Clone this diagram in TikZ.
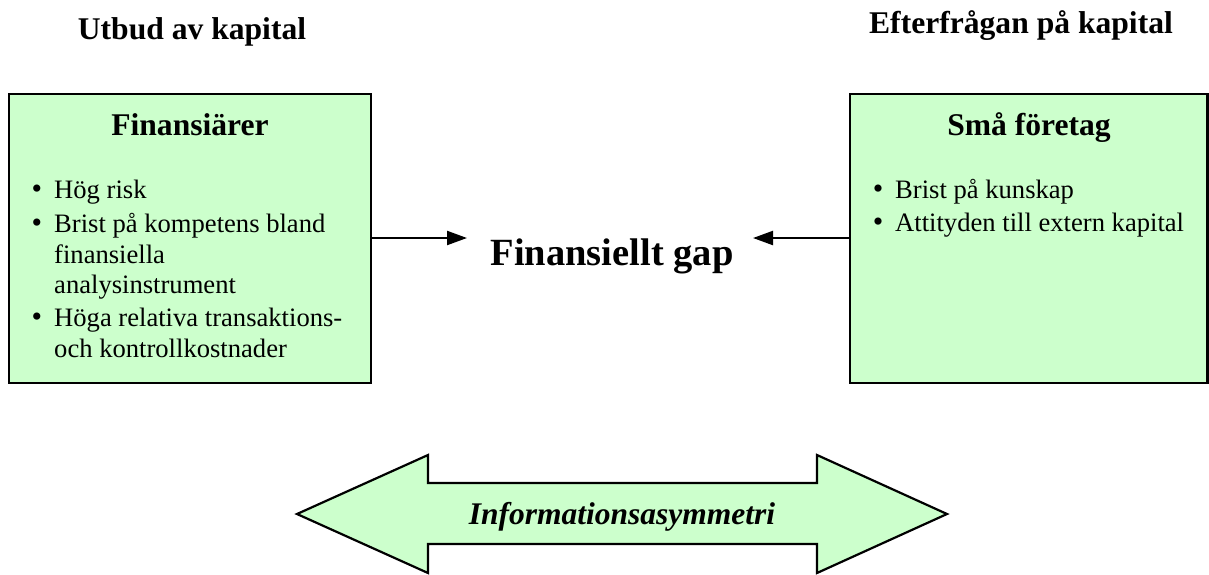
\documentclass[tikz,border=0pt]{standalone}
\usepackage{fontspec}
\setmainfont{Liberation Serif}
\usetikzlibrary{arrows.meta}
\definecolor{boxgreen}{HTML}{CCFFCC}
\tikzset{
  greenbox/.style={draw=black, fill=boxgreen, line width=2.6pt},
  headtext/.style={font=\fontsize{31.6}{36}\selectfont\bfseries, inner sep=0pt, anchor=base},
  bodyline/.style={font=\fontsize{26.6}{31}\selectfont, inner sep=0pt, anchor=base west},
  bulletmark/.style={font=\fontsize{30}{32}\selectfont, inner sep=0pt, anchor=base},
  flowarrow/.style={line width=2.2pt, -{Triangle[length=20pt,width=14pt]}},
}
\begin{document}
\begin{tikzpicture}[x=1pt,y=-1pt]
\useasboundingbox (0,0) rectangle (1209,574);
% top labels
\node[headtext] (supply) at (192,39) {Utbud av kapital};
\node[headtext] (demand) at (1021,33) {Efterfrågan på kapital};
% boxes
\draw[greenbox] (9,94) rectangle (371,383);
\draw[greenbox] (850,94) rectangle (1207.7,383);
\coordinate (lbox) at (371,238);
\coordinate (rbox) at (850,238);
% left box content
\node[headtext] (fin) at (190,135) {Finansiärer};
\node[bulletmark] (b1) at (37,198) {\textbullet};
\node[bodyline] (l1) at (54,198) {Hög risk};
\node[bulletmark] (b2) at (37,232) {\textbullet};
\node[bodyline] (l2) at (54,232) {Brist på kompetens bland};
\node[bodyline] (l3) at (54,263) {finansiella};
\node[bodyline] (l4) at (54,293) {analysinstrument};
\node[bulletmark] (b3) at (37,326) {\textbullet};
\node[bodyline] (l5) at (54,326) {Höga relativa transaktions-};
\node[bodyline] (l6) at (54,357) {och kontrollkostnader};
% right box content
\node[headtext] (sma) at (1029,135) {Små företag};
\node[bulletmark] (r1b) at (878,198) {\textbullet};
\node[bodyline] (r1) at (895,198) {Brist på kunskap};
\node[bulletmark] (r2b) at (878,231) {\textbullet};
\node[bodyline] (r2) at (895,231) {Attityden till extern kapital};
% center
\node[font=\fontsize{38.5}{44}\selectfont\bfseries, inner sep=0pt, anchor=base] (gap) at (612,265) {Finansiellt gap};
\coordinate (ltip) at (467,238);
\coordinate (rtip) at (753,238);
\draw[flowarrow] (lbox) -- (ltip);
\draw[flowarrow] (rbox) -- (rtip);
% double arrow
\draw[greenbox, line width=2.2pt, line join=miter]
  (297,514) -- (428,455) -- (428,483) -- (817,483) -- (817,455) -- (947,514)
  -- (817,573) -- (817,544) -- (428,544) -- (428,573) -- cycle;
\node[font=\fontsize{31.5}{34}\selectfont\bfseries\itshape, inner sep=0pt, anchor=base] (info) at (622,524) {Informationsasymmetri};
\end{tikzpicture}
\end{document}
